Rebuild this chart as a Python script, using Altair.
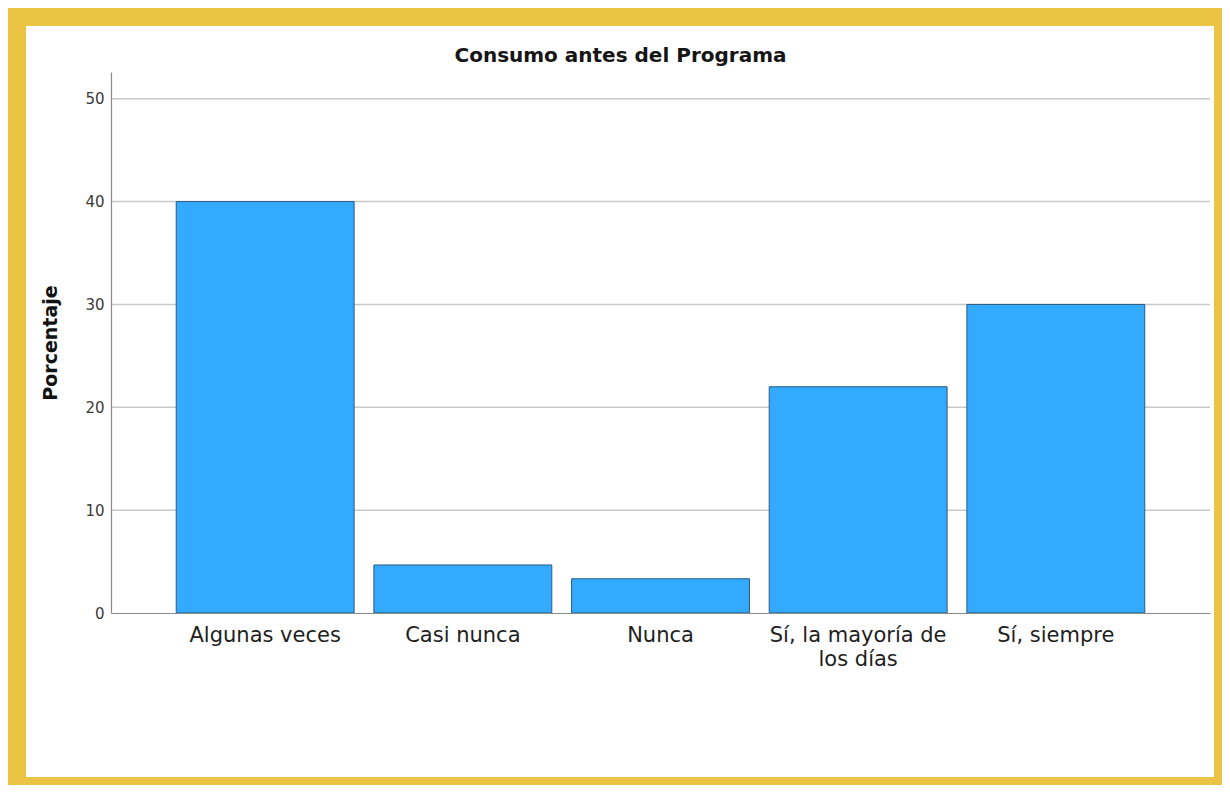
import altair as alt
import pandas as pd

categorias = ["Algunas veces", "Casi nunca", "Nunca", "Sí, la mayoría de los días", "Sí, siempre"]
porcentajes = [40.0, 4.67, 3.33, 22.0, 30.0]
ticks_y = [0, 10, 20, 30, 40, 50]
grid_vals = [10, 20, 30, 40, 50]

W, H = 1099, 541
FONT = "DejaVu Sans"

df = pd.DataFrame({"Categoria": categorias, "Porcentaje": porcentajes})
grid_df = pd.DataFrame({"Porcentaje": grid_vals})

yscale = alt.Scale(domain=[0, 52.6], nice=False, zero=True)
yaxis = alt.Axis(
    title="Porcentaje", values=ticks_y, grid=False, ticks=False,
    labelPadding=7, labelFontSize=15, labelFont=FONT, labelColor="#3a3a3a",
    titleFontSize=19, titleFont=FONT, titleFontWeight="bold", titleColor="#111111",
    titleX=-51, titleY=H / 2, titleAngle=-90, titleAlign="center", titleBaseline="bottom",
    domainColor="#8a8a8a", domainWidth=1.2, zindex=1,
)

panel = alt.Chart(alt.Data(values=[{}])).mark_rect(color="white").encode(
    x=alt.value(-85), x2=alt.value(1103), y=alt.value(-46), y2=alt.value(705)
)

grid = alt.Chart(grid_df).mark_rule(color="#c9c9c9", strokeWidth=1.5).encode(
    y=alt.Y("Porcentaje:Q", scale=yscale, axis=yaxis),
    x=alt.value(0), x2=alt.value(W),
)

bars = alt.Chart(df).mark_bar(color="#33aaff", stroke="#2d5b80", strokeWidth=1).encode(
    x=alt.X(
        "Categoria:N",
        sort=categorias,
        scale=alt.Scale(paddingInner=0.1, paddingOuter=0.33),
        axis=alt.Axis(
            title=None, labelAngle=0, ticks=False, labelPadding=11,
            labelFontSize=21, labelFont=FONT, labelColor="#1e1e1e",
            labelLimit=400, labelLineHeight=24, labelBaseline="top",
            domainColor="#8a8a8a", domainWidth=1.2, zindex=1,
            labelExpr="datum.value == 'Sí, la mayoría de los días' ? ['Sí, la mayoría de', 'los días'] : datum.label",
        ),
    ),
    y=alt.Y("Porcentaje:Q", scale=yscale, axis=yaxis),
)

chart = alt.layer(panel, grid, bars).properties(
    width=W,
    height=H,
    title=alt.TitleParams(
        "Consumo antes del Programa", font=FONT, fontSize=20, fontWeight="bold",
        color="#151515", anchor="middle", dx=-40, dy=46, offset=6,
    ),
    background="#ECC443",
    padding={"left": 103, "top": 64, "right": 12, "bottom": 172},
    autosize=alt.AutoSizeParams(type="none"),
).configure_view(stroke=None)

chart.save("out.html", embed_options={"renderer": "svg", "actions": False})
